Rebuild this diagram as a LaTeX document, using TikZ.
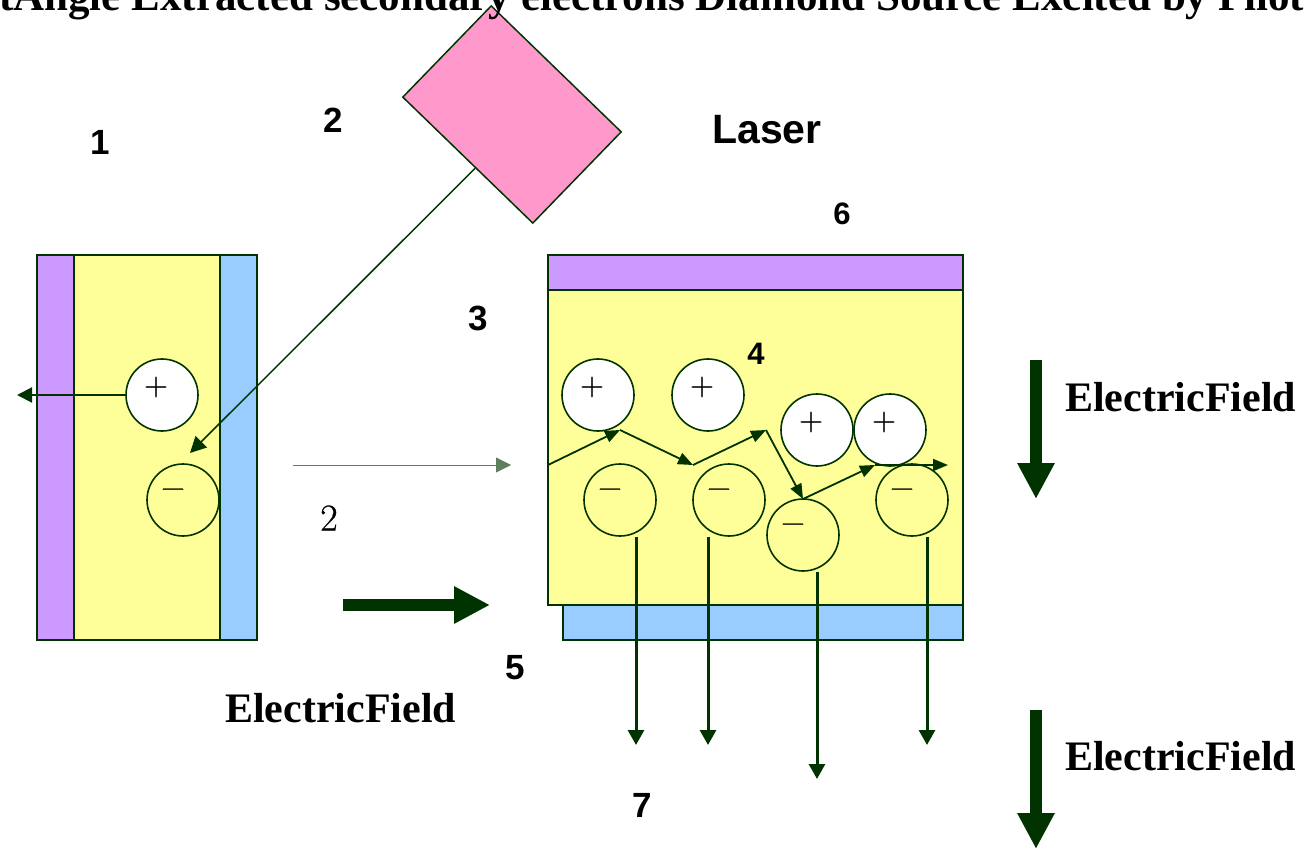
\documentclass[tikz,border=0pt]{standalone}
\usepackage{fontspec}
\newfontfamily\lsans{Liberation Sans}
\newfontfamily\lserif{Liberation Serif}
\newfontfamily\lmheavy{Latin Modern Roman}[FakeBold=0.6]
\usetikzlibrary{arrows.meta,calc}
\definecolor{lc}{RGB}{0,51,0}
\definecolor{purp}{RGB}{204,153,255}
\definecolor{yel}{RGB}{255,255,153}
\definecolor{blu}{RGB}{153,204,255}
\definecolor{pnk}{RGB}{255,153,204}
\definecolor{thinc}{RGB}{95,125,95}
\begin{document}
\begin{tikzpicture}[x=1pt,y=-1pt,
  slabpart/.style={draw=lc, line width=1.5pt},
  sgnlbl/.style={inner sep=0pt, font=\lmheavy\fontsize{33}{33}\selectfont},
  poscirc/.style={circle, draw=lc, line width=1.6pt, fill=white, minimum size=72pt, inner sep=0pt,
     label={[sgnlbl, xshift=-6pt, yshift=8pt]center:+}},
  negcirc/.style={circle, draw=lc, line width=1.6pt, fill=yel, minimum size=72pt, inner sep=0pt,
     label={[sgnlbl, xshift=-10pt, yshift=7pt]center:−}},
  numlbl/.style={font=\lsans\bfseries\fontsize{35}{40}\selectfont, inner sep=0pt},
  numsmlbl/.style={font=\lsans\bfseries\fontsize{31}{36}\selectfont, inner sep=0pt},
  eflbl/.style={font=\lserif\bfseries\fontsize{42}{48}\selectfont, inner sep=0pt},
  titlelbl/.style={font=\lserif\bfseries\fontsize{43}{48}\selectfont, inner sep=0pt},
  zzarr/.style={draw=lc, line width=1.8pt, -{Triangle[length=15pt,width=12pt]}},
  harr/.style={draw=lc, line width=2pt, -{Triangle[length=15pt,width=15pt]}},
  beamarr/.style={draw=lc, line width=1.5pt, -{Triangle[length=16pt,width=16pt]}},
  thinarr/.style={draw=thinc, line width=0.8pt, -{Triangle[length=15pt,width=15pt]}},
  varr/.style={draw=lc, line width=3pt, -{Triangle[length=15pt,width=16pt]}},
  bigarr/.style={draw=lc, line width=12pt, -{Triangle[length=36pt,width=35pt]}}
]
\useasboundingbox (0,0) rectangle (1304,850);

% left slab
\draw[slabpart, fill=purp] (37,255) rectangle (74,640);
\draw[slabpart, fill=yel] (74,255) rectangle (220,640);
\draw[slabpart, fill=blu] (220,255) rectangle (257,640);
\node[poscirc] (lp) at (162,395) {};
\node[negcirc] (ln) at (183,500) {};
\coordinate (lpe) at (17,395);
\draw[harr] (lp.west) -- (lpe);

% laser
\node[draw=lc, line width=1.5pt, fill=pnk, rectangle, minimum width=181pt, minimum height=127pt,
      inner sep=0pt, rotate=-44.1] (laser) at (512,114.5) {};
\coordinate (beamtip) at (190,453);
\draw[beamarr] ($(laser.south west)!0.56!(laser.south east)$) -- (beamtip);

% right slab
\draw[slabpart, fill=blu] (563,605) rectangle (963,640);
\draw[slabpart, fill=yel] (548,290) rectangle (963,605);
\draw[slabpart, fill=purp] (548,255) rectangle (963,290);

\node[poscirc] (p1) at (598,395) {};
\node[poscirc] (p2) at (708,395) {};
\node[poscirc] (p3) at (817,430) {};
\node[poscirc] (p4) at (890,430) {};
\node[negcirc] (m1) at (620,500) {};
\node[negcirc] (m2) at (729,500) {};
\node[negcirc] (m3) at (803,535) {};
\node[negcirc] (m4) at (912,500) {};

% zigzag path
\coordinate (z0) at (548,465);
\coordinate (z1) at (620,430);
\coordinate (z2) at (693,465);
\coordinate (z3) at (766,430);
\coordinate (z4) at (803,499);
\coordinate (z5) at (875,465);
\coordinate (z6) at (948,465);
\draw[zzarr] (z0) -- (z1);
\draw[zzarr] (z1) -- (z2);
\draw[zzarr] (z2) -- (z3);
\draw[zzarr] (z3) -- (z4);
\draw[zzarr] (z4) -- (z5);
\draw[zzarr] (z5) -- (z6);

% electron emission arrows
\coordinate (e1) at (636,745);
\coordinate (e2) at (708,745);
\coordinate (e3) at (817,779);
\coordinate (e4) at (927,745);
\draw[varr] (m1.south -| e1) -- (e1);
\draw[varr] (m2.south -| e2) -- (e2);
\draw[varr] (m3.south -| e3) -- (e3);
\draw[varr] (m4.south -| e4) -- (e4);

% middle arrows
\coordinate (ta) at (293,465);
\coordinate (tb) at (511,465);
\draw[thinarr] (ta) -- (tb);
\coordinate (ba) at (343,605);
\coordinate (bb) at (490,605);
\draw[bigarr] (ba) -- (bb);
\node[inner sep=0pt, font=\lmheavy\fontsize{38}{40}\selectfont] (two) at (329,518) {2};

% field arrows right
\coordinate (fa1) at (1036,360);
\coordinate (fb1) at (1036,499);
\draw[bigarr] (fa1) -- (fb1);
\coordinate (fa2) at (1036,710);
\coordinate (fb2) at (1036,849);
\draw[bigarr] (fa2) -- (fb2);

% labels
\node[numlbl] (n1) at (100,142) {1};
\node[numlbl] (n2) at (333,120) {2};
\node[numlbl] (n3) at (478,318) {3};
\node[numsmlbl] (n4) at (756,354) {4};
\node[numlbl] (n5) at (515,668) {5};
\node[numsmlbl] (n6) at (842,214) {6};
\node[numlbl] (n7) at (642,805) {7};
\node[font=\lsans\bfseries\fontsize{41}{46}\selectfont, inner sep=0pt] (laserlbl) at (767,130) {Laser};
\node[eflbl, anchor=base west] (efl) at (225,722) {ElectricField};
\node[eflbl, anchor=base west] (efr1) at (1065,411) {ElectricField};
\node[eflbl, anchor=base west] (efr2) at (1065,770) {ElectricField};

% title (cut off by the page, as in the reference)
\node[titlelbl, anchor=base west] (title) at (-1,11) {tAngle Extracted secondary electrons Diamond Source Excited by Pilot};
\end{tikzpicture}
\end{document}
